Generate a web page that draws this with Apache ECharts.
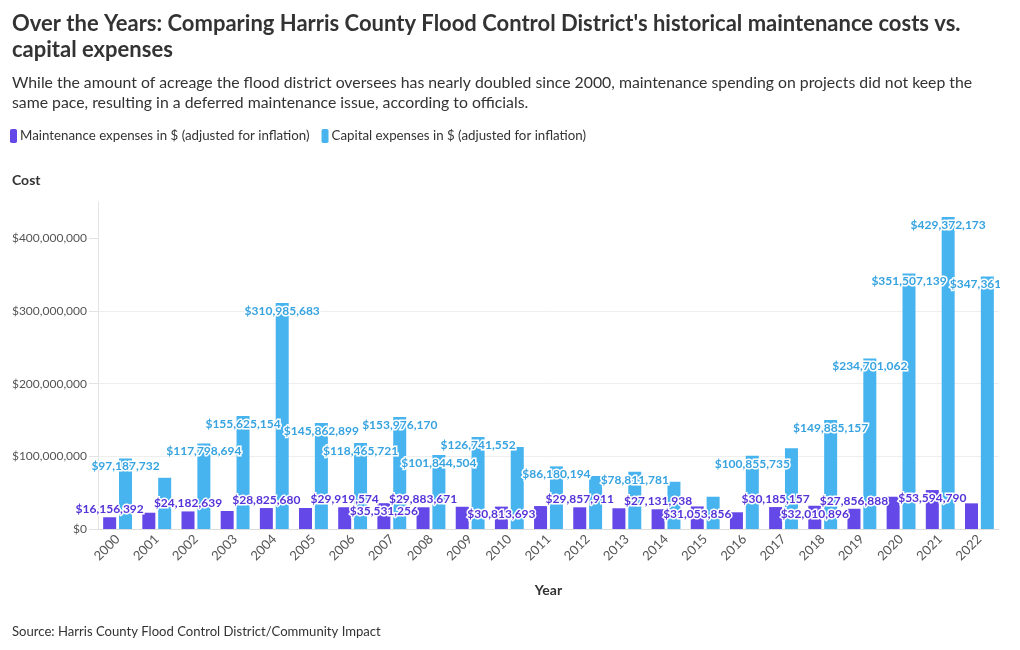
<!DOCTYPE html>
<html><head><meta charset="utf-8">
<script src="https://cdn.jsdelivr.net/npm/echarts@6/dist/echarts.min.js"></script>
<style>html,body{margin:0;padding:0;background:#fff;}#c{width:1000px;height:650px;}</style>
</head><body><div id="c"></div>
<script>
const years = ['2000','2001','2002','2003','2004','2005','2006','2007','2008','2009','2010','2011','2012','2013','2014','2015','2016','2017','2018','2019','2020','2021','2022'];
const maintenance = [16156392, 22400000, 24182639, 24800000, 28825680, 28900000, 29919574, 35531256, 29883671, 30600000, 30813693, 31600000, 29857911, 28500000, 27131938, 31053856, 23000000, 30185157, 32010896, 27856888, 44400000, 53594790, 35300000];
const capital = [97187732, 70500000, 117798694, 155625154, 310985683, 145862899, 118465721, 153976170, 101844504, 126741552, 113000000, 86180194, 72900000, 78811781, 65000000, 44400000, 100855735, 111000000, 149885157, 234701062, 351507139, 429372173, 347361400];
const yTicks = [0, 100000000, 200000000, 300000000, 400000000];
// label placement per bar: 't' above the bar, 'i' inside top, '' hidden
const maintLabels = ['t','','t','','t','','t','i','t','','i','','t','','t','i','','t','i','t','','i',''];
const capLabels = ['i','','i','i','i','i','i','i','i','i','','i','','i','','','i','','i','i','i','i','i'];

const FONT = 'Lato, Roboto, sans-serif';
const fmt = v => '$' + Math.round(v).toLocaleString('en-US');
const MC = '#6448e8', CC = '#47b4ef';
function build(vals, modes) {
  return vals.map((v, i) => ({
    value: v,
    label: modes[i] ? {show: true, position: modes[i] === 't' ? 'top' : 'insideTop', distance: 2} : {show: false}
  }));
}
const labelStyle = c => ({
  show: true, formatter: p => fmt(p.value), color: c, fontFamily: FONT, fontWeight: 'bold', fontSize: 12,
  textBorderColor: '#fff', textBorderWidth: 3
});

const chart = echarts.init(document.getElementById('c'), null, {renderer: 'canvas'});
chart.setOption({
  animation: false,
  textStyle: {fontFamily: FONT},
  title: [
    {text: "Over the Years: Comparing Harris County Flood Control District's historical maintenance costs vs.\ncapital expenses", left: 7, top: 6,
     textStyle: {fontFamily: FONT, fontSize: 22, fontWeight: 'bold', color: '#333', lineHeight: 26}},
    {text: "While the amount of acreage the flood district oversees has nearly doubled since 2000, maintenance spending on projects did not keep the\nsame pace, resulting in a deferred maintenance issue, according to officials.", left: 7, top: 68,
     textStyle: {fontFamily: FONT, fontSize: 15.8, fontWeight: 'normal', color: '#333', lineHeight: 20}},
    {text: 'Cost', left: 7, top: 168, textStyle: {fontFamily: FONT, fontSize: 14, fontWeight: 'bold', color: '#333'}},
    {text: 'Source: Harris County Flood Control District/Community Impact', left: 7, top: 620,
     textStyle: {fontFamily: FONT, fontSize: 13.1, fontWeight: 'normal', color: '#333'}}
  ],
  legend: {
    left: 5, top: 124, icon: 'roundRect', itemWidth: 7, itemHeight: 14, itemGap: 12,
    textStyle: {fontFamily: FONT, fontSize: 13.3, color: '#333', padding: [0, 0, 0, -2]},
    data: ['Maintenance expenses in $ (adjusted for inflation)', 'Capital expenses in $ (adjusted for inflation)']
  },
  grid: {left: 98, right: 1, top: 202, bottom: 121},
  xAxis: {
    type: 'category', data: years,
    axisLine: {lineStyle: {color: '#ddd'}}, axisTick: {show: false},
    axisLabel: {rotate: 45, color: '#555', fontSize: 13, fontFamily: FONT, margin: 8},
    name: 'Year', nameLocation: 'middle', nameGap: 54,
    nameTextStyle: {fontFamily: FONT, fontSize: 14, fontWeight: 'bold', color: '#333'}
  },
  yAxis: {
    type: 'value', min: 0, max: 450000000, interval: 100000000,
    axisLine: {show: true, lineStyle: {color: '#e3e3e3'}},
    axisTick: {show: true, length: 9, lineStyle: {color: '#e3e3e3'}, customValues: yTicks},
    axisLabel: {color: '#555', fontSize: 12, fontFamily: FONT, margin: 11, formatter: v => fmt(v), customValues: yTicks},
    splitLine: {lineStyle: {color: '#eeeeee'}, showMaxLine: false}
  },
  series: [
    {name: 'Maintenance expenses in $ (adjusted for inflation)', type: 'bar', data: build(maintenance, maintLabels), barWidth: 13, barGap: '22%',
     itemStyle: {color: MC}, label: labelStyle('#5533d8'), labelLayout: {hideOverlap: false}},
    {name: 'Capital expenses in $ (adjusted for inflation)', type: 'bar', data: build(capital, capLabels), barWidth: 13,
     itemStyle: {color: CC}, label: labelStyle('#36a3e0'), labelLayout: {hideOverlap: false}}
  ]
});
</script></body></html>
